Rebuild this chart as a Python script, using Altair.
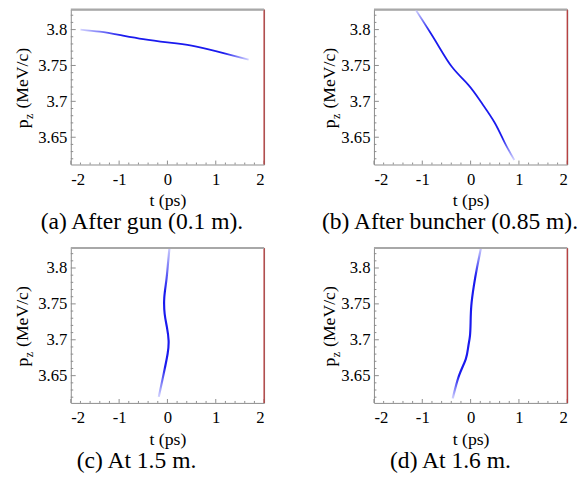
import altair as alt
import pandas as pd

# ---- data ----
a_t = [-1.80, -1.40, -1.00, -0.50, 0.00, 0.50, 1.00, 1.40, 1.68]
a_p = [3.800, 3.797, 3.7926, 3.7867, 3.7822, 3.7776, 3.770, 3.763, 3.758]

b_t = [-1.137, -0.729, -0.388, -0.047, 0.224, 0.496, 0.700, 0.904]
b_p = [3.8277, 3.7844, 3.7481, 3.7230, 3.6983, 3.6706, 3.6433, 3.6183]

c_t = [-0.179, -0.077, 0.004, 0.024, -0.010, -0.057, -0.065, -0.024, 0.010, 0.045]
c_p = [3.6204, 3.6528, 3.6805, 3.6989, 3.7173, 3.7359, 3.7589, 3.7820, 3.8051, 3.8305]

d_t = [-0.37, -0.24, -0.10, -0.047, -0.014, 0.0, 0.014, 0.067, 0.137, 0.22]
d_p = [3.618, 3.650, 3.673, 3.691, 3.705, 3.724, 3.747, 3.775, 3.802, 3.830]

captions = ["(a) After gun (0.1 m).", "(b) After buncher (0.85 m).",
            "(c) At 1.5 m.", "(d) At 1.6 m."]

x_domain = [-2, 2]
y_domain = [3.612, 3.828]
x_major = [-2, -1, 0, 1, 2]
x_minor = [-1.8, -1.6, -1.4, -1.2, -0.8, -0.6, -0.4, -0.2,
           0.2, 0.4, 0.6, 0.8, 1.2, 1.4, 1.6, 1.8]
y_major = [3.65, 3.7, 3.75, 3.8]
y_minor = [3.62, 3.63, 3.64, 3.66, 3.67, 3.68, 3.69, 3.71, 3.72, 3.73,
           3.74, 3.76, 3.77, 3.78, 3.79, 3.81, 3.82]
x_title = "t (ps)"
y_title_parts = ["p", "z", "(MeV/c)"]

W, H = 197, 158
FONT = "Liberation Serif"
AXC = "#8c8c8c"
BLUE = "#1a1aee"
FADE = "#d4d4ff"


def grad(horizontal, s0, s1):
    stops = [alt.GradientStop(color=FADE, offset=0),
             alt.GradientStop(color=BLUE, offset=s0),
             alt.GradientStop(color=BLUE, offset=s1),
             alt.GradientStop(color=FADE, offset=1)]
    if horizontal:
        return alt.LinearGradient(gradient="linear", stops=stops, x1=0, x2=1, y1=0, y2=0)
    return alt.LinearGradient(gradient="linear", stops=stops, x1=0, x2=0, y1=0, y2=1)


XS = alt.Scale(domain=x_domain, nice=False, zero=False)
YS = alt.Scale(domain=y_domain, nice=False, zero=False)
XAX = alt.Axis(values=x_major, domain=False, ticks=False, grid=False,
               labelExpr="'' + datum.value", labelPadding=7, title=x_title,
               labelFont=FONT, labelFontSize=17, labelColor="black",
               titleFont=FONT, titleFontSize=18, titleColor="black",
               titleFontWeight="normal", titlePadding=5)
YAX = alt.Axis(values=y_major, domain=False, ticks=False, grid=False,
               labelExpr="'' + datum.value", labelPadding=4, title=None,
               labelFont=FONT, labelFontSize=17, labelColor="black")


def text_part(s, size, x, y):
    return alt.Chart(pd.DataFrame({"s": [s]})).mark_text(
        font=FONT, fontSize=size, angle=270, align="left",
        baseline="alphabetic", color="black"
    ).encode(text="s:N", x=alt.value(x), y=alt.value(y))


def panel(t, p, caption, color, sw, title_x, cap_x):
    df = pd.DataFrame({"t": t, "p": p})
    curve = alt.Chart(df).mark_line(
        clip=True, interpolate="natural", strokeWidth=sw, color=color
    ).encode(
        x=alt.X("t:Q", scale=XS, axis=XAX, title=x_title),
        y=alt.Y("p:Q", scale=YS, axis=YAX, title=None),
        order="p:Q",
    )
    xmaj = alt.Chart(pd.DataFrame({"t": x_major})).mark_rule(color=AXC).encode(
        x=alt.X("t:Q", scale=XS, axis=XAX, title=x_title),
        y=alt.value(H), y2=alt.value(H - 4))
    xmin = alt.Chart(pd.DataFrame({"t": x_minor})).mark_rule(color=AXC).encode(
        x=alt.X("t:Q", scale=XS, axis=XAX, title=x_title),
        y=alt.value(H), y2=alt.value(H - 2))
    ymaj = alt.Chart(pd.DataFrame({"p": y_major})).mark_rule(color=AXC).encode(
        y=alt.Y("p:Q", scale=YS, axis=YAX, title=None),
        x=alt.value(0), x2=alt.value(5))
    ymin = alt.Chart(pd.DataFrame({"p": y_minor})).mark_rule(color=AXC).encode(
        y=alt.Y("p:Q", scale=YS, axis=YAX, title=None),
        x=alt.value(0), x2=alt.value(2.5))
    one = pd.DataFrame({"s": [caption]})
    right = alt.Chart(one).mark_rule(color="#b83030", strokeWidth=1.2).encode(
        x=alt.value(W), y=alt.value(0), y2=alt.value(H))
    top = alt.Chart(one).mark_rule(color="#a8a8a8", strokeWidth=2).encode(
        x=alt.value(0), x2=alt.value(W), y=alt.value(0))
    cap = alt.Chart(one).mark_text(
        font=FONT, fontSize=24, align="center", baseline="middle", color="black"
    ).encode(text="s:N", x=alt.value(cap_x), y=alt.value(H + 59))
    tp = text_part(y_title_parts[0], 18, title_x, 121)
    tz = text_part(y_title_parts[1], 12, title_x + 5, 111.5)
    tm = text_part(y_title_parts[2], 18, title_x, 101)
    return alt.layer(curve, xmaj, xmin, ymaj, ymin, right, top, cap, tp, tz, tm).properties(
        width=W, height=H)


pa = panel(a_t, a_p, captions[0], grad(True, 0.25, 0.85), 1.8, -44, 72.5)
pb = panel(b_t, b_p, captions[1], grad(False, 0.15, 0.85), 1.8, -40, 77.5)
pc = panel(c_t, c_p, captions[2], grad(False, 0.3, 0.8), 2.2, -44, 67)
pd_ = panel(d_t, d_p, captions[3], grad(False, 0.2, 0.85), 2.2, -40, 78)

chart = alt.concat(
    pa, pb, pc, pd_, columns=2, spacing={"row": 85, "column": 112}, bounds="flush"
).properties(
    padding={"left": 5, "top": -5, "right": 0, "bottom": 0}
).configure_view(
    stroke=AXC, strokeWidth=1
)

chart.save("out.html", embed_options={"renderer": "svg", "actions": False})
